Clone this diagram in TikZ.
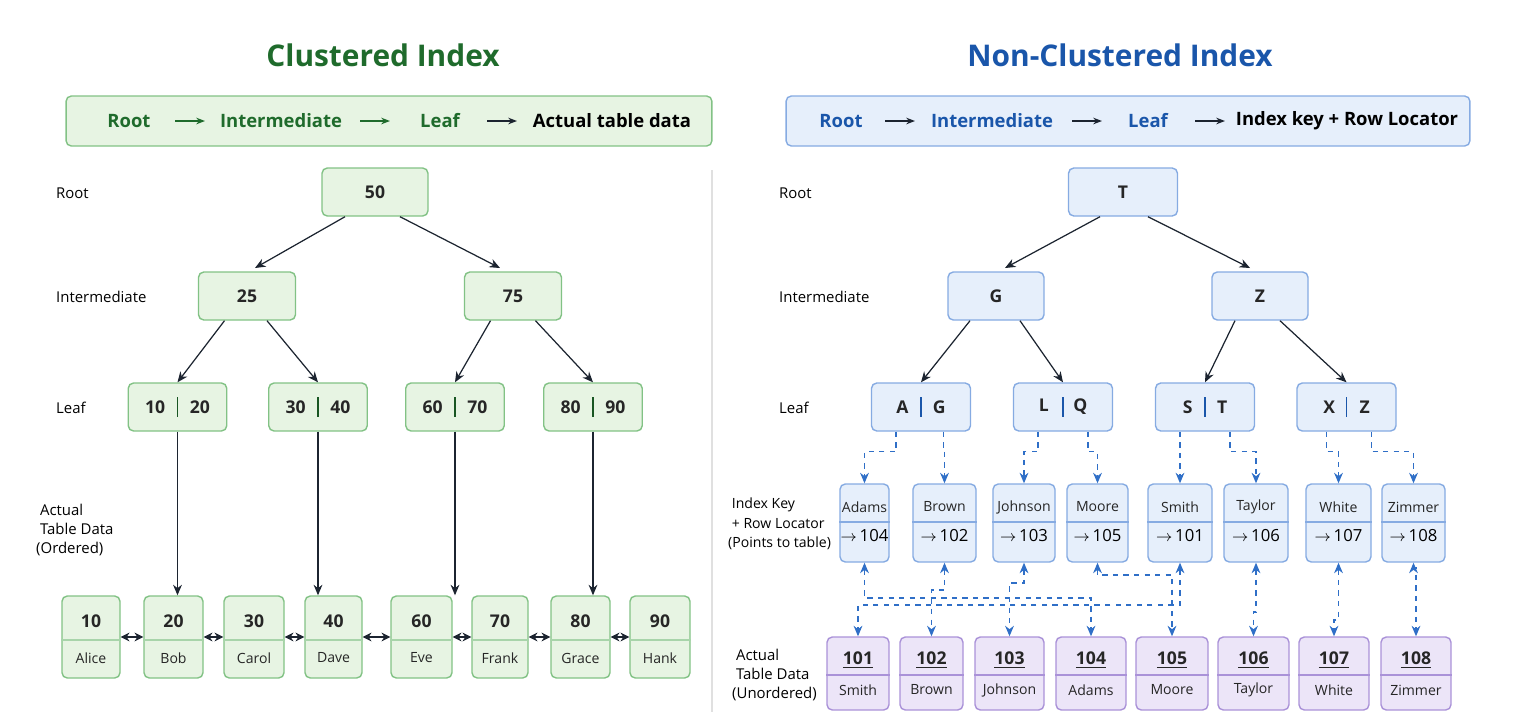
\documentclass[tikz,border=0pt]{standalone}
\usepackage{fontspec}
\setmainfont{Open Sans}
\usetikzlibrary{arrows.meta}
\definecolor{GreenLine}{HTML}{82C285}
\definecolor{GreenFill}{HTML}{E7F4E3}
\definecolor{GreenText}{HTML}{1F6B2C}
\definecolor{BlueLine}{HTML}{86ABE2}
\definecolor{BlueFill}{HTML}{E6EFFB}
\definecolor{BlueText}{HTML}{1A56AA}
\definecolor{BlueLink}{HTML}{2F6FC7}
\definecolor{PurpleLine}{HTML}{AA92D8}
\definecolor{PurpleFill}{HTML}{ECE5F8}
\definecolor{DarkArrow}{HTML}{1C2430}
\tikzset{
  gbox/.style={draw=GreenLine, fill=GreenFill, rounded corners=3pt, line width=0.8pt},
  bbox/.style={draw=BlueLine, fill=BlueFill, rounded corners=3pt, line width=0.8pt},
  pbox/.style={draw=PurpleLine, fill=PurpleFill, rounded corners=3pt, line width=0.8pt},
  key/.style={font=\fontsize{10}{12}\selectfont\bfseries, text=black!85},
  small/.style={font=\fontsize{8}{10}\selectfont, text=black!85},
  side/.style={font=\fontsize{8.5}{11}\selectfont, text=black, align=left, anchor=west},
  tarrow/.style={-{Stealth[length=6pt,width=5pt]}, DarkArrow, line width=0.7pt},
  larrow/.style={{Stealth[length=5pt,width=5pt]}-{Stealth[length=5pt,width=5pt]}, DarkArrow, line width=0.7pt},
  darrow/.style={-{Stealth[length=6pt,width=5pt]}, BlueLink, dashed, line width=0.7pt},
  dlink/.style={{Stealth[length=6pt,width=5pt]}-{Stealth[length=6pt,width=5pt]}, BlueLink, dashed, line width=0.7pt},
}
\newcommand{\rowlink}[3]{\draw[dlink] (#1.south) -- (#1.south |- 0,#3) -| (#2.north);}
\begin{document}
\begin{tikzpicture}[x=0.02cm, y=-0.02cm]
    \useasboundingbox (0,0) rectangle (1536,718);
    % titles
    \node[font=\fontsize{17}{20}\selectfont\bfseries, text=GreenText] (tg) at (383,55) {Clustered Index};
    \node[font=\fontsize{17}{20}\selectfont\bfseries, text=BlueText] (tb) at (1120,55) {Non-Clustered Index};
    % legends
    \node[gbox, minimum width=12.92cm, minimum height=1cm] (legG) at (389,121) {};
    \node[bbox, minimum width=13.68cm, minimum height=1cm] (legB) at (1128,121) {};
    \foreach \x/\t [count=\i] in {129/Root, 281/Intermediate, 440/Leaf}
        \node[font=\fontsize{10.5}{12}\selectfont\bfseries, text=GreenText] (lg\i) at (\x,121) {\t};
    \node[font=\fontsize{10.5}{12}\selectfont\bfseries, text=black] (lg4) at (612,121) {Actual table data};
    \foreach \x/\t [count=\i] in {841/Root, 992/Intermediate, 1148/Leaf}
        \node[font=\fontsize{10.5}{12}\selectfont\bfseries, text=BlueText] (lb\i) at (\x,121) {\t};
    \node[font=\fontsize{10.5}{12}\selectfont\bfseries, text=black] (lb4) at (1347,121) {Index key + Row Locator};
    \draw[-{Stealth[length=5pt]}, GreenText, line width=0.8pt] (175,121) -- (205,121);
    \draw[-{Stealth[length=5pt]}, GreenText, line width=0.8pt] (360,121) -- (390,121);
    \draw[-{Stealth[length=5pt]}, DarkArrow, line width=0.8pt] (487,121) -- (517,121);
    \draw[-{Stealth[length=5pt]}, DarkArrow, line width=0.8pt] (885,121) -- (915,121);
    \draw[-{Stealth[length=5pt]}, DarkArrow, line width=0.8pt] (1072,121) -- (1102,121);
    \draw[-{Stealth[length=5pt]}, DarkArrow, line width=0.8pt] (1195,121) -- (1225,121);
    % divider
    \draw[black!12, line width=0.6pt] (712,170) -- (712,712);

    % ---- clustered side ----
    \node[side] (sg1) at (50,193) {Root};
    \node[side] (sg2) at (50,297) {Intermediate};
    \node[side] (sg3) at (50,408) {Leaf};
    \node[side] (sg4) at (30,530) {\ Actual\\\ Table Data\\(Ordered)};
    \node[gbox, key, minimum width=2.12cm, minimum height=0.96cm] (g50) at (375,192) {50};
    \node[gbox, key, minimum width=1.94cm, minimum height=0.96cm] (g25) at (247,296) {25};
    \node[gbox, key, minimum width=1.94cm, minimum height=0.96cm] (g75) at (513,296) {75};
    \foreach \x/\a/\b [count=\i] in {177.5/10/20, 318/30/40, 455/60/70, 593/80/90}{
        \node[gbox, key, minimum width=1.97cm, minimum height=0.96cm] (gl\i) at (\x,407) {\a\hspace{1.4em}\b};
        \draw[GreenText!80!black, line width=0.6pt] (\x,397) -- (\x,417);
    }
    \draw[tarrow] ([xshift=-0.6cm]g50.south) -- (255,268);
    \draw[tarrow] ([xshift=0.5cm]g50.south) -- (500,268);
    \draw[tarrow] ([xshift=-0.45cm]g25.south) -- (gl1.north);
    \draw[tarrow] ([xshift=0.4cm]g25.south) -- (gl2.north);
    \draw[tarrow] ([xshift=-0.45cm]g75.south) -- (gl3.north);
    \draw[tarrow] ([xshift=0.45cm]g75.south) -- (gl4.north);
    \foreach \x/\w/\k/\n [count=\i] in {91/58/10/Alice, 173.5/59/20/Bob, 254/60/30/Carol, 333.5/57/40/Dave, 421.5/61/60/Eve, 500/56/70/Frank, 580.5/59/80/Grace, 660/60/90/Hank}{
        \node[gbox, minimum width=\w*0.02cm, minimum height=1.64cm] (c\i) at (\x,637) {};
        \draw[GreenLine!70, line width=0.6pt] (c\i.west |- 0,640) -- (c\i.east |- 0,640);
        \node[key] (c\i k) at (\x,621) {\k};
        \node[small] (c\i n) at (\x,658) {\n};
    }
    \foreach \i [evaluate=\i as \j using int(\i+1)] in {1,...,7}
        \draw[larrow] (c\i.east) -- (c\j.west);
    \draw[tarrow] (gl1.south) -- (gl1.south |- c2.north);
    \draw[tarrow] (gl2.south) -- (gl2.south |- c4.north);
    \draw[tarrow] (gl3.south) -- (gl3.south |- c5.north);
    \draw[tarrow] (gl4.south) -- (gl4.south |- c7.north);

    % ---- non-clustered side ----
    \node[side] (sb1) at (773,193) {Root};
    \node[side] (sb2) at (773,297) {Intermediate};
    \node[side] (sb3) at (773,408) {Leaf};
    \node[side, font=\fontsize{8}{11}\selectfont] (sb4) at (722,524) {\ Index Key\\\ + Row Locator\\(Points to table)};
    \node[side] (sb5) at (726,675) {\ Actual\\\ Table Data\\(Unordered)};
    \node[bbox, key, minimum width=2.18cm, minimum height=0.96cm] (bT) at (1123,192) {T};
    \node[bbox, key, minimum width=1.92cm, minimum height=0.96cm] (bG) at (996,296) {G};
    \node[bbox, key, minimum width=1.92cm, minimum height=0.96cm] (bZ) at (1260,296) {Z};
    \foreach \x/\a/\b [count=\i] in {921/A/G, 1063/L/Q, 1205/S/T, 1346.5/X/Z}{
        \node[bbox, key, minimum width=1.98cm, minimum height=0.96cm] (bl\i) at (\x,407) {\a\hspace{1.4em}\b};
        \draw[BlueText, line width=0.6pt] (\x,397) -- (\x,417);
    }
    \draw[tarrow] ([xshift=-0.46cm]bT.south) -- (1005,268);
    \draw[tarrow] ([xshift=0.5cm]bT.south) -- (1250,268);
    \draw[tarrow] ([xshift=-0.52cm]bG.south) -- (bl1.north);
    \draw[tarrow] ([xshift=0.48cm]bG.south) -- (bl2.north);
    \draw[tarrow] ([xshift=-0.5cm]bZ.south) -- (bl3.north);
    \draw[tarrow] ([xshift=0.4cm]bZ.south) -- (bl4.north);
    % index entries
    \foreach \x/\w/\n/\p [count=\i] in {864.5/49/Adams/104, 944.5/63/Brown/102, 1024/62/Johnson/103, 1097.5/61/Moore/105, 1180/64/Smith/101, 1256/64/Taylor/106, 1338.5/65/White/107, 1413.5/63/Zimmer/108}{
        \node[bbox, minimum width=\w*0.02cm, minimum height=1.56cm] (e\i) at (\x,523) {};
        \draw[BlueLine, line width=0.6pt] (e\i.west |- 0,522) -- (e\i.east |- 0,522);
        \node[small] (e\i n) at (\x,507) {\n};
        \node[font=\fontsize{9.5}{11}\selectfont, text=black] (e\i p) at (\x,536) {$\rightarrow$\,\p};
    }
    % table rows
    \foreach \x/\w/\k/\n [count=\i] in {858/62/101/Smith, 931.5/63/102/Brown, 1009.5/69/103/Johnson, 1091/70/104/Adams, 1172/72/105/Moore, 1253.5/71/106/Taylor, 1334/70/107/White, 1416/70/108/Zimmer}{
        \node[pbox, minimum width=\w*0.02cm, minimum height=1.46cm] (t\i) at (\x,673.5) {};
        \draw[PurpleLine, line width=0.6pt] (t\i.west |- 0,675) -- (t\i.east |- 0,675);
        \node[key] (t\i k) at (\x,660) {\underline{\k}};
        \node[small] (t\i n) at (\x,690) {\n};
    }
    % leaf to index entries
    \draw[darrow] ([xshift=-0.5cm]bl1.south) -- ++(0,20) -| (e1.north);
    \draw[darrow] ([xshift=0.45cm]bl1.south) -- ++(0,20) -| (e2.north);
    \draw[darrow] ([xshift=-0.5cm]bl2.south) -- ++(0,20) -| (e3.north);
    \draw[darrow] ([xshift=0.5cm]bl2.south) -- ++(0,20) -| (e4.north);
    \draw[darrow] ([xshift=-0.5cm]bl3.south) -- ++(0,20) -| (e5.north);
    \draw[darrow] ([xshift=0.5cm]bl3.south) -- ++(0,20) -| (e6.north);
    \draw[darrow] ([xshift=-0.4cm]bl4.south) -- ++(0,20) -| (e7.north);
    \draw[darrow] ([xshift=0.5cm]bl4.south) -- ++(0,20) -| (e8.north);
    % index entries to table rows
    \rowlink{e1}{t4}{598}
    \rowlink{e2}{t2}{590}
    \rowlink{e3}{t3}{583}
    \rowlink{e4}{t5}{575}
    \rowlink{e5}{t1}{605}
    \rowlink{e6}{t6}{612}
    \rowlink{e7}{t7}{620}
    \rowlink{e8}{t8}{568}
\end{tikzpicture}
\end{document}
